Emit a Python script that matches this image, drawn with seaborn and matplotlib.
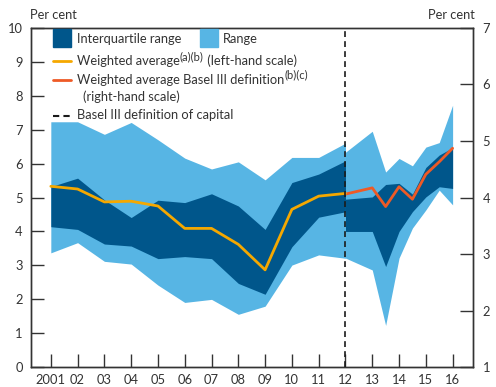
import matplotlib
matplotlib.use("Agg")
import matplotlib.pyplot as plt
import seaborn as sns
import pandas as pd
from matplotlib.patches import Rectangle
from matplotlib.lines import Line2D
from matplotlib.transforms import offset_copy

# Capital ratios, old definition (left-hand scale), annual
years_old = [2001, 2002, 2003, 2004, 2005, 2006, 2007, 2008, 2009, 2010, 2011, 2012]
range_lo_old = [3.37, 3.67, 3.12, 3.04, 2.42, 1.91, 2.00, 1.56, 1.80, 3.01, 3.31, 3.21]
iqr_lo_old = [4.14, 4.06, 3.63, 3.57, 3.20, 3.26, 3.20, 2.47, 2.15, 3.55, 4.42, 4.58]
iqr_hi_old = [5.32, 5.57, 4.93, 4.41, 4.92, 4.85, 5.11, 4.75, 4.06, 5.44, 5.69, 6.08]
range_hi_old = [7.23, 7.23, 6.86, 7.21, 6.70, 6.16, 5.84, 6.05, 5.52, 6.18, 6.18, 6.60]
wavg_old = [5.33, 5.25, 4.87, 4.89, 4.75, 4.09, 4.09, 3.62, 2.87, 4.65, 5.04, 5.12]

# Basel III definition (right-hand scale), semi-annual from 2013
years_b3 = [2012, 2013, 2013.5, 2014, 2014.5, 2015, 2015.5, 2016]
range_lo_b3 = [2.93, 2.72, 1.74, 2.93, 3.46, 3.78, 4.13, 3.87]
iqr_lo_b3 = [3.40, 3.40, 2.78, 3.40, 3.75, 4.01, 4.19, 4.16]
iqr_hi_b3 = [3.97, 4.01, 4.23, 4.25, 4.06, 4.53, 4.75, 4.88]
range_hi_b3 = [4.80, 5.17, 4.45, 4.69, 4.56, 4.89, 4.97, 5.63]
wavg_b3 = [4.06, 4.17, 3.84, 4.19, 3.97, 4.41, 4.63, 4.87]

tick_years = list(range(2001, 2017))
tick_labels = ["2001"] + [f"{y % 100:02d}" for y in range(2002, 2017)]
basel_break = 2012

DARK = "#00568B"
LIGHT = "#57B5E4"
ORANGE = "#F5A800"
RED = "#EE5A26"
INK = "#333333"

sns.set_theme(style="white")
plt.rcParams["font.family"] = ["Lato", "DejaVu Sans"]
plt.rcParams["text.color"] = INK
FS = 9.3
FS_SUP = 8.0

W, H = 496, 387
fig = plt.figure(figsize=(W / 100, H / 100), dpi=100)
L, R, T, B = 31, 472.7, 27.7, 367.3
ax = fig.add_axes([L / W, 1 - B / H, (R - L) / W, (B - T) / H])
ax2 = ax.twinx()

old = pd.DataFrame({"year": years_old, "lo": range_lo_old, "q1": iqr_lo_old,
                    "q3": iqr_hi_old, "hi": range_hi_old, "wavg": wavg_old})
b3 = pd.DataFrame({"year": years_b3, "lo": range_lo_b3, "q1": iqr_lo_b3,
                   "q3": iqr_hi_b3, "hi": range_hi_b3, "wavg": wavg_b3})

# Bands
ax.fill_between(old["year"], old["lo"], old["hi"], color=LIGHT, lw=0, zorder=1)
ax.fill_between(old["year"], old["q1"], old["q3"], color=DARK, lw=0, zorder=2)
ax2.fill_between(b3["year"], b3["lo"], b3["hi"], color=LIGHT, lw=0, zorder=1)
ax2.fill_between(b3["year"], b3["q1"], b3["q3"], color=DARK, lw=0, zorder=2)

# Weighted averages
sns.lineplot(data=old, x="year", y="wavg", ax=ax, color=ORANGE, lw=2.0, zorder=3)
sns.lineplot(data=b3, x="year", y="wavg", ax=ax2, color=RED, lw=2.0, zorder=3)

# Break in definition
ax.axvline(basel_break, color="#1a1a1a", lw=1.2, ls=(0, (3.5, 2.5)), zorder=4)

ax.set_xlim(2000.26, 2016.75)
ax.set_ylim(0, 10)
ax2.set_ylim(1, 7)
for a in (ax, ax2):
    a.set_xlabel("")
    a.set_ylabel("")

ax.set_xticks(tick_years)
ax.set_xticklabels(tick_labels)
ax.set_yticks(range(0, 11))
ax2.set_yticks(range(1, 8))

for a in (ax, ax2):
    for s in a.spines.values():
        s.set_color(INK)
        s.set_linewidth(1.0)
        s.set_visible(True)
ax.tick_params(axis="both", direction="in", length=9.5, width=1.0, color=INK,
               labelsize=FS, labelcolor=INK)
ax.tick_params(axis="y", pad=6, left=True)
ax.tick_params(axis="x", pad=4.5, bottom=True)
ax2.tick_params(axis="y", direction="in", length=9.5, width=1.0, color=INK,
                labelsize=FS, labelcolor=INK, pad=7, right=True)
ax.set_zorder(ax2.get_zorder() + 1)
ax.patch.set_visible(False)


def fx(px):
    return px / W


def fy(py):
    return 1 - py / H


fig.text(fx(30), fy(15), "Per cent", fontsize=FS, va="center", ha="left")
fig.text(fx(475), fy(15), "Per cent", fontsize=FS, va="center", ha="right")

renderer = fig.canvas.get_renderer()


def rich_line(x, y, parts):
    """Write a run of (text, is_superscript) pieces side by side."""
    cur = x
    for txt, sup in parts:
        t = fig.text(fx(cur), fy(y - (4.5 if sup else 0)), txt,
                     fontsize=FS_SUP if sup else FS, va="center", ha="left")
        cur += t.get_window_extent(renderer).width


# Key
fig.patches.append(Rectangle((fx(53), fy(47)), fx(17.5), 17.5 / H, color=DARK,
                             transform=fig.transFigure, figure=fig))
fig.text(fx(77), fy(39), "Interquartile range", fontsize=FS, va="center")
fig.patches.append(Rectangle((fx(200), fy(47)), fx(17.5), 17.5 / H, color=LIGHT,
                             transform=fig.transFigure, figure=fig))
fig.text(fx(223), fy(39), "Range", fontsize=FS, va="center")

fig.lines.append(Line2D([fx(53), fx(70.5)], [fy(61), fy(61)], color=ORANGE, lw=2.0,
                        transform=fig.transFigure))
rich_line(77, 61, [("Weighted average", False), ("(a)(b)", True),
                   (" (left-hand scale)", False)])
fig.lines.append(Line2D([fx(53), fx(70.5)], [fy(79.5), fy(79.5)], color=RED, lw=2.0,
                        transform=fig.transFigure))
rich_line(77, 79.5, [("Weighted average Basel III definition", False), ("(b)(c)", True)])
fig.text(fx(83), fy(97), "(right-hand scale)", fontsize=FS, va="center")
fig.lines.append(Line2D([fx(53), fx(70.5)], [fy(116), fy(116)], color="#1a1a1a", lw=1.5,
                        ls=(0, (3, 2)), transform=fig.transFigure))
fig.text(fx(77), fy(115), "Basel III definition of capital", fontsize=FS, va="center")

fig.savefig("out.png", dpi=100)
